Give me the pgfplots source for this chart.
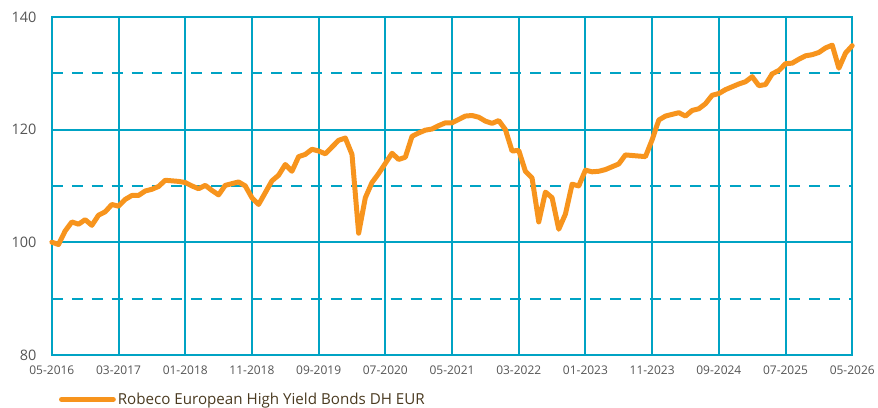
\documentclass[border=0pt]{standalone}
\usepackage{pgfplots}
\pgfplotsset{compat=1.18}
\usepackage{pgfplotstable}
\usepackage{fontspec}
\setmainfont{Open Sans}
\definecolor{gridteal}{HTML}{00A3C4}
\definecolor{lineorange}{HTML}{F7941D}
\definecolor{ticktext}{HTML}{555555}
\definecolor{legtext}{HTML}{4A3A20}
\pgfplotstableread{
m v
0 100.0
1 99.6
2 102.0
3 103.6
4 103.2
5 104.0
6 103.0
7 104.8
8 105.4
9 106.7
10 106.4
11 107.6
12 108.3
13 108.3
14 109.1
15 109.4
16 109.9
17 111.0
18 110.9
19 110.8
20 110.6
21 110.0
22 109.5
23 110.1
24 109.2
25 108.4
26 110.1
27 110.4
28 110.7
29 110.0
30 107.9
31 106.7
32 108.8
33 110.9
34 111.9
35 113.8
36 112.6
37 115.2
38 115.6
39 116.5
40 116.2
41 115.7
42 116.9
43 118.1
44 118.5
45 115.6
46 101.6
47 107.9
48 110.6
49 112.2
50 114.0
51 115.8
52 114.7
53 115.1
54 118.8
55 119.4
56 119.9
57 120.1
58 120.7
59 121.2
60 121.2
61 121.8
62 122.4
63 122.5
64 122.2
65 121.5
66 121.1
67 121.6
68 120.0
69 116.2
70 116.3
71 112.6
72 111.4
73 103.6
74 108.9
75 107.9
76 102.3
77 105.0
78 110.3
79 110.0
80 112.8
81 112.5
82 112.6
83 112.9
84 113.4
85 113.9
86 115.5
87 115.4
88 115.3
89 115.2
90 118.2
91 121.7
92 122.4
93 122.7
94 123.0
95 122.4
96 123.4
97 123.7
98 124.6
99 126.1
100 126.4
101 127.1
102 127.6
103 128.1
104 128.5
105 129.4
106 127.8
107 128.0
108 129.9
109 130.5
110 131.7
111 131.8
112 132.5
113 133.1
114 133.3
115 133.7
116 134.5
117 135.0
118 130.9
119 133.6
120 134.9
}\datatable
\begin{document}
\begin{tikzpicture}
\begin{axis}[
  name=main,
  at={(0pt,0pt)}, anchor=south west,
  scale only axis,
  width=803pt, height=339pt,
  xmin=0, xmax=120, ymin=80, ymax=140,
  axis line style={draw=gridteal, line width=2pt},
  xtick={0,10,...,120},
  xticklabels={05-2016,03-2017,01-2018,11-2018,09-2019,07-2020,05-2021,03-2022,01-2023,11-2023,09-2024,07-2025,05-2026},
  ytick={80,100,120,140},
  extra y ticks={90,110,130},
  extra y tick labels={},
  extra y tick style={grid=major, major grid style={draw=gridteal, line width=2pt, dash pattern=on 11pt off 9pt}},
  grid=major,
  major grid style={draw=gridteal, line width=2pt},
  major tick length=0pt,
  /pgf/number format/assume math mode=true,
  xticklabel style={font=\fontsize{12}{14}\selectfont, text=ticktext, yshift=-7pt},
  yticklabel style={font=\fontsize{14.5}{17}\selectfont, text=ticktext, xshift=-12pt},
  tick align=outside,
  legend style={at={(0,0)}, anchor=north west, xshift=7pt, yshift=-36pt, draw=none, fill=none,
    font=\fontsize{15.2}{17}\selectfont, text=legtext, inner sep=0pt},
  legend cell align=left,
  legend image code/.code={\draw[#1, line width=5pt] (0pt,0pt) -- (52pt,0pt);},
  clip=false,
]
\addplot[lineorange, line width=5pt, line join=round, line cap=round] table[x=m, y=v] {\datatable};
\addlegendentry{Robeco European High Yield Bonds DH EUR}
\end{axis}
\path (-52pt,-52pt) rectangle (826pt,356pt);
\end{tikzpicture}
\end{document}
